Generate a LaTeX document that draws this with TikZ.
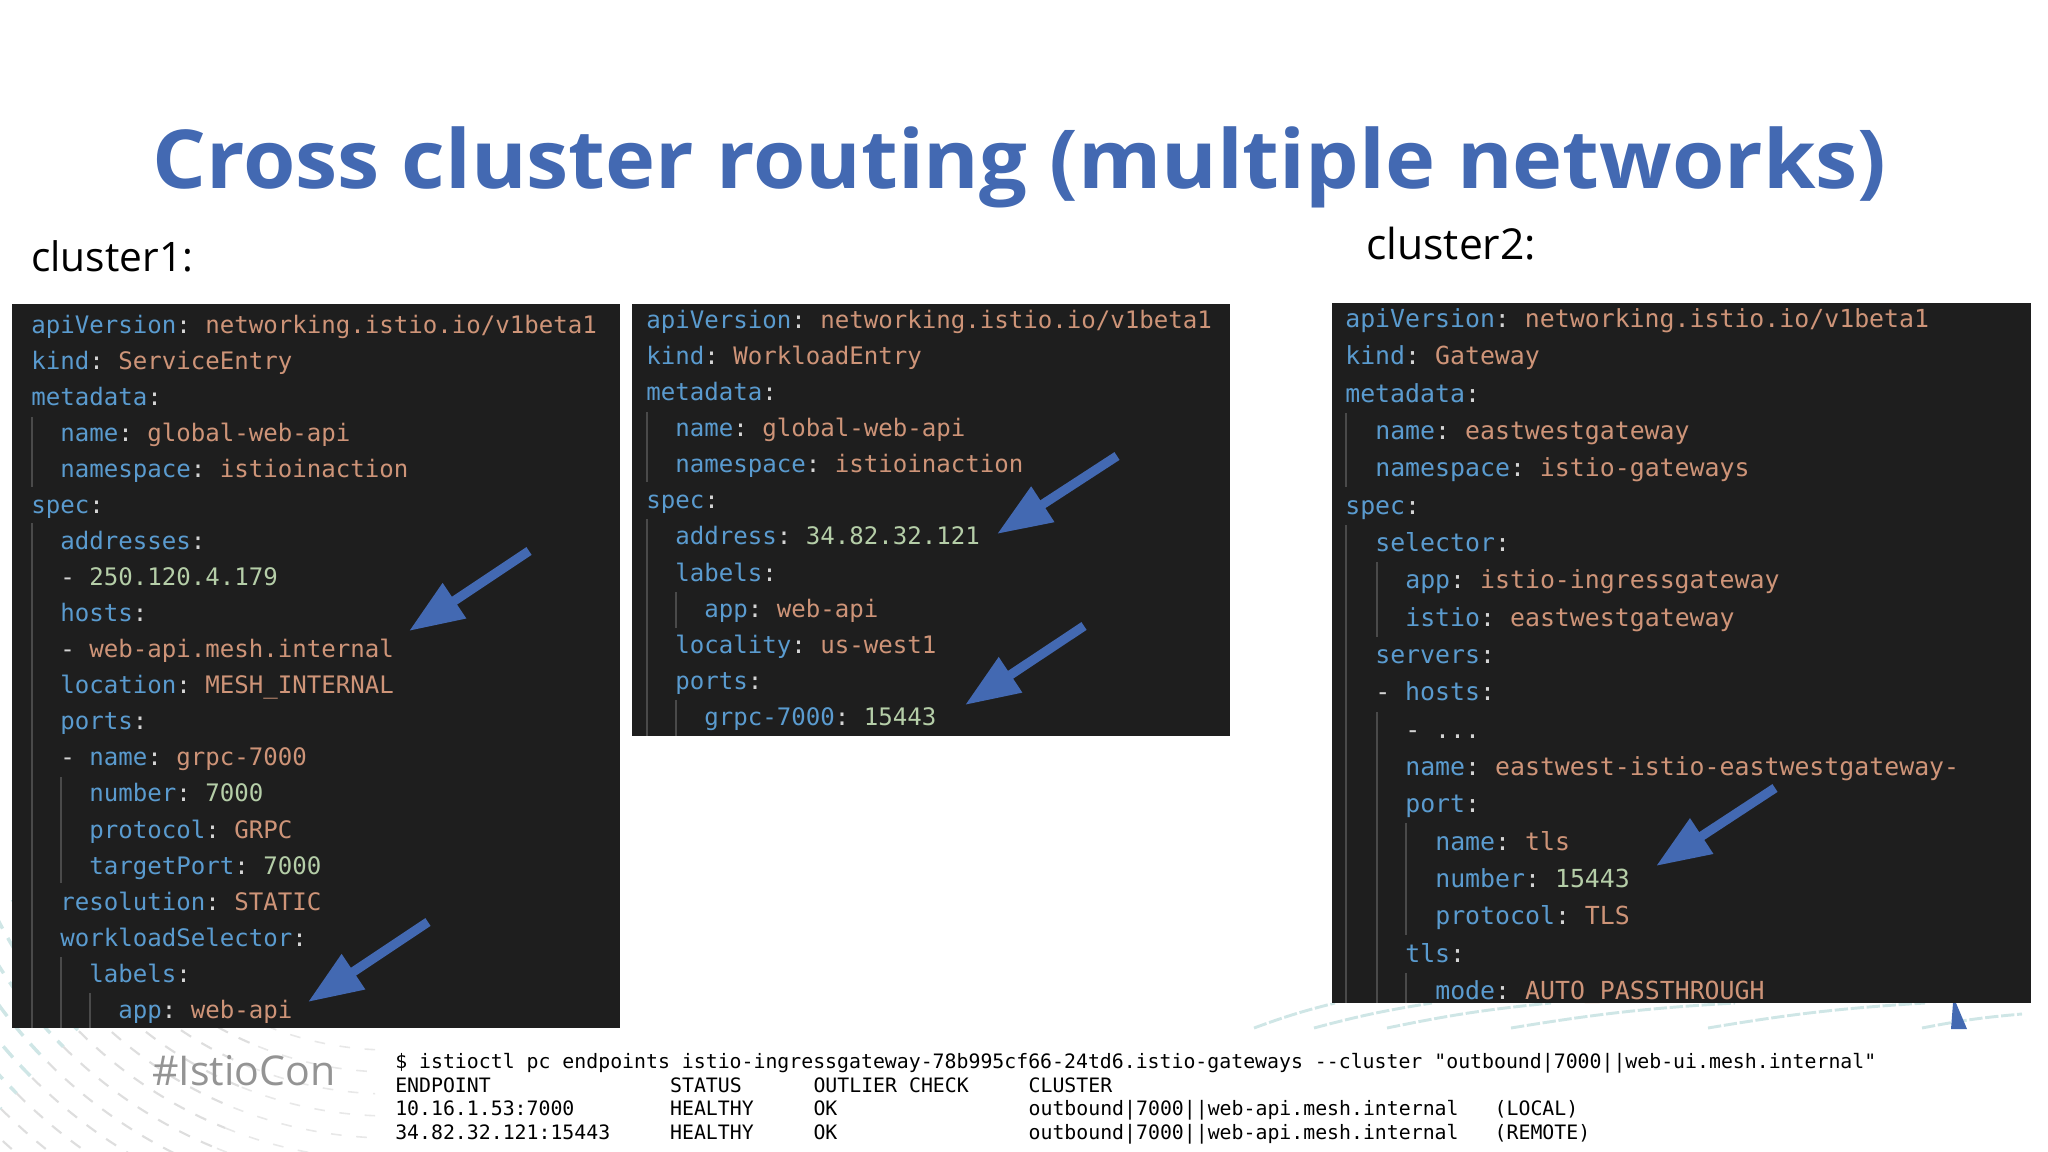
\documentclass[tikz,border=0pt]{standalone}
\usepackage{fontspec}
\usetikzlibrary{arrows.meta}
\newfontfamily\codefont{DejaVu Sans Mono}
\newfontfamily\titlefont{Open Sans}
\newfontfamily\labelfont{Open Sans}
\definecolor{slideblue}{HTML}{4369B2}
\definecolor{panelbg}{HTML}{1E1E1E}
\definecolor{guidegray}{HTML}{4A4A4A}
\definecolor{keyblue}{HTML}{5A9BCF}
\definecolor{valorange}{HTML}{CE9478}
\definecolor{numgreen}{HTML}{B5CEA8}
\definecolor{colongray}{HTML}{D4D4D4}
\definecolor{wavecolor}{HTML}{CFE6E6}
\newcommand{\yk}[1]{\textcolor{keyblue}{#1}\textcolor{colongray}{:}}
\newcommand{\yv}[1]{\textcolor{valorange}{#1}}
\newcommand{\yn}[1]{\textcolor{numgreen}{#1}}
\newcommand{\yd}{\textcolor{colongray}{-}}
\tikzset{
	codeline/.style={anchor=base west,inner sep=0pt,font=\codefont\fontsize{18.07}{18.07}\selectfont},
	codelinewide/.style={codeline,font=\codefont\fontsize{18.65}{18.65}\selectfont},
	termline/.style={anchor=base west,inner sep=0pt,text=black,font=\codefont\fontsize{14.88}{14.88}\selectfont},
	panel/.style={fill=panelbg},
	guide/.style={draw=guidegray,line width=1pt},
	callout/.style={draw=slideblue,line width=7pt,-{Triangle[length=41pt,width=30pt]}},
	wavenear/.style={draw=wavecolor,line width=2.6pt,dash pattern=on 11pt off 8pt},
	wavemid/.style={draw=black!13,line width=1.6pt,dash pattern=on 9pt off 9pt},
	wavefar/.style={draw=black!9,line width=1.2pt,dash pattern=on 8pt off 11pt},
	bandwave/.style={draw=wavecolor,line width=2.2pt,dash pattern=on 10pt off 2pt}
}
\frenchspacing
\begin{document}
\begin{tikzpicture}[x=0.75pt,y=-0.75pt]
\useasboundingbox (0,0) rectangle (2048,1152);

\begin{scope}
	\clip (0,900) rectangle (375,1152);
	\foreach \r in {330,352,...,640}
	{
		\draw[wavenear] (390,720) ++(180:\r) arc[start angle=180,end angle=135,radius=\r];
		\draw[wavemid] (390,720) ++(135:\r) arc[start angle=135,end angle=112,radius=\r];
		\draw[wavefar] (390,720) ++(112:\r) arc[start angle=112,end angle=88,radius=\r];
	}
\end{scope}

\begin{scope}
	\clip (1200,1003) rectangle (2048,1029);
	\foreach \a/\b/\c/\d in {1254/1028/1335/1003,1314/1028/1432/1003,1387/1028/1551/1003,1511/1028/1735/1003,1708/1028/1925/1003,1922/1028/2022/1014}
		\draw[bandwave] (\a,\b) to[bend left=3] (\c,\d);
	\fill[slideblue] (1953,1003) -- (1956,1003) -- (1967,1029) -- (1951,1029) -- cycle;
\end{scope}

\node[anchor=base west,inner sep=0pt,text=slideblue,font=\titlefont\bfseries\fontsize{61}{61}\selectfont] (title) at (152,189) {\scalebox{1.042}[1]{Cross cluster routing (multiple networks)}};
\node[anchor=base west,inner sep=0pt,font=\labelfont\fontsize{30.5}{30.5}\selectfont] (clusterone) at (31,271) {cluster1:};
\node[anchor=base west,inner sep=0pt,font=\labelfont\fontsize{32}{32}\selectfont] (clustertwo) at (1366,259) {cluster2:};
\node[anchor=base west,inner sep=0pt,text=black!42,font=\labelfont\fontsize{30.8}{30.8}\selectfont] (hashtag) at (152,1085) {\#IstioCon};

\fill[panel] (12,304) rectangle (620,1028);
\foreach \x/\a/\b in {32/417/487,32/523/1028,61/777/883,61/957/1028,90/993/1028}
	\draw[guide] (\x,\a) -- (\x,\b);
\foreach [count=\n] \ind/\txt in {
	0/{\yk{apiVersion} \yv{networking.istio.io/v1beta1}},
	0/{\yk{kind} \yv{ServiceEntry}},
	0/{\yk{metadata}},
	1/{\yk{name} \yv{global-web-api}},
	1/{\yk{namespace} \yv{istioinaction}},
	0/{\yk{spec}},
	1/{\yk{addresses}},
	1/{\yd{} \yn{250.120.4.179}},
	1/{\yk{hosts}},
	1/{\yd{} \yv{web-api.mesh.internal}},
	1/{\yk{location} \yv{MESH\_INTERNAL}},
	1/{\yk{ports}},
	1/{\yd{} \yk{name} \yv{grpc-7000}},
	2/{\yk{number} \yn{7000}},
	2/{\yk{protocol} \yv{GRPC}},
	2/{\yk{targetPort} \yn{7000}},
	1/{\yk{resolution} \yv{STATIC}},
	1/{\yk{workloadSelector}},
	2/{\yk{labels}},
	3/{\yk{app} \yv{web-api}}}
	\node[codeline] (ca\n) at (31+29*\ind,333.3+36.05*\n-36.05) {\txt};

\fill[panel] (632,304) rectangle (1230,736);
\foreach \x/\a/\b in {647/412/482,647/519/736,676/592/628,676/700/736}
	\draw[guide] (\x,\a) -- (\x,\b);
\foreach [count=\n] \ind/\txt in {
	0/{\yk{apiVersion} \yv{networking.istio.io/v1beta1}},
	0/{\yk{kind} \yv{WorkloadEntry}},
	0/{\yk{metadata}},
	1/{\yk{name} \yv{global-web-api}},
	1/{\yk{namespace} \yv{istioinaction}},
	0/{\yk{spec}},
	1/{\yk{address} \yn{34.82.32.121}},
	1/{\yk{labels}},
	2/{\yk{app} \yv{web-api}},
	1/{\yk{locality} \yv{us-west1}},
	1/{\yk{ports}},
	2/{\yk{grpc-7000} \yn{15443}}}
	\node[codeline] (cb\n) at (646+29*\ind,328.4+36.09*\n-36.09) {\txt};

\fill[panel] (1332,303) rectangle (2031,1003);
\begin{scope}
	\clip (1332,303) rectangle (2031,1003);
	\foreach \x/\a/\b in {1346/413/487,1346/525/1003,1377/562/637,1377/712/1003,1406/823/935,1406/973/1003}
		\draw[guide] (\x,\a) -- (\x,\b);
	\foreach [count=\n] \ind/\txt in {
		0/{\yk{apiVersion} \yv{networking.istio.io/v1beta1}},
		0/{\yk{kind} \yv{Gateway}},
		0/{\yk{metadata}},
		1/{\yk{name} \yv{eastwestgateway}},
		1/{\yk{namespace} \yv{istio-gateways}},
		0/{\yk{spec}},
		1/{\yk{selector}},
		2/{\yk{app} \yv{istio-ingressgateway}},
		2/{\yk{istio} \yv{eastwestgateway}},
		1/{\yk{servers}},
		1/{\yd{} \yk{hosts}},
		2/{\yd{} \textcolor{colongray}{...}},
		2/{\yk{name} \yv{eastwest-istio-eastwestgateway-}},
		2/{\yk{port}},
		3/{\yk{name} \yv{tls}},
		3/{\yk{number} \yn{15443}},
		3/{\yk{protocol} \yv{TLS}},
		2/{\yk{tls}},
		3/{\yk{mode} \yv{AUTO\_PASSTHROUGH}}}
		\node[codelinewide] (cc\n) at (1345+30*\ind,327.5+37.33*\n-37.33) {\txt};
\end{scope}

\foreach \n/\tx/\ty/\hx/\hy in {1/529/551/409/631,2/428/922/308/1002,3/1117/456/997/534,4/1084/626/965/705,5/1775/788/1656/866}
{
	\coordinate (tail\n) at (\tx,\ty);
	\coordinate (tip\n) at (\hx,\hy);
	\draw[callout] (tail\n) -- (tip\n);
}

\foreach \r/\c/\txt in {
	0/0/{\$ istioctl pc endpoints istio-ingressgateway-78b995cf66-24td6.istio-gateways -{}-cluster "outbound|7000||web-ui.mesh.internal"},
	1/0/{ENDPOINT},1/23/{STATUS},1/35/{OUTLIER CHECK},1/53/{CLUSTER},
	2/0/{10.16.1.53:7000},2/23/{HEALTHY},2/35/{OK},2/53/{outbound|7000||web-api.mesh.internal},2/92/{(LOCAL)},
	3/0/{34.82.32.121:15443},3/23/{HEALTHY},3/35/{OK},3/53/{outbound|7000||web-api.mesh.internal},3/92/{(REMOTE)}}
	\node[termline] (term\r-\c) at (395+11.95*\c,1068.5+23.7*\r) {\txt};

\end{tikzpicture}
\end{document}
